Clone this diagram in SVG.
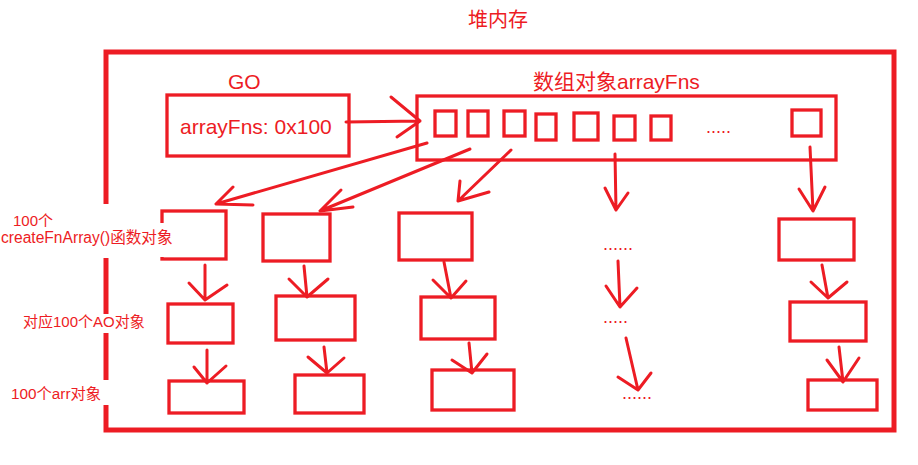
<svg xmlns="http://www.w3.org/2000/svg" width="918" height="465" viewBox="0 0 918 465">
<style>
.box{fill:none;stroke:#ED1C24;stroke-width:3.3}
.frame{fill:none;stroke:#ED1C24;stroke-width:5}
.t{fill:#ED1C24;font-family:"Liberation Sans","Noto Sans CJK SC",sans-serif}
.dots{fill:#ED1C24;font-family:"Liberation Sans",sans-serif;font-size:18px}
.bg{fill:#ffffff}
.conn path{fill:none;stroke:#ED1C24;stroke-width:3;stroke-linecap:round;stroke-linejoin:round}
</style>
<rect x="0" y="0" width="918" height="465" fill="#ffffff"/>
<g id="heap">
<rect class="frame" x="106" y="52" width="788" height="378"/>
<text class="t" x="468" y="27" font-size="20">堆内存</text>
</g>
<g id="go">
<text class="t" x="228" y="89" font-size="21">GO</text>
<rect class="box" x="167" y="95" width="182" height="61"/>
<text class="t" x="180" y="134" font-size="21">arrayFns: 0x100</text>
</g>
<g id="arrayFns">
<text class="t" x="533" y="89" font-size="21">数组对象arrayFns</text>
<rect class="box" x="417" y="96" width="419" height="64"/>
<rect class="box" x="435" y="111" width="21" height="25"/>
<rect class="box" x="468" y="111" width="20" height="25"/>
<rect class="box" x="504" y="111" width="21" height="25"/>
<rect class="box" x="536" y="114" width="20" height="26"/>
<rect class="box" x="574" y="113" width="24" height="27"/>
<rect class="box" x="614" y="116" width="21" height="24"/>
<rect class="box" x="651" y="116" width="20" height="24"/>
<text class="dots" x="706" y="133" font-size="17">.....</text>
<rect class="box" x="792" y="110" width="29" height="26"/>
</g>
<g id="fn1"><rect class="box" x="162" y="211" width="64" height="48"/></g>
<g id="fn2"><rect class="box" x="263" y="214" width="67" height="47"/></g>
<g id="fn3"><rect class="box" x="399" y="213" width="73" height="47"/></g>
<g id="fn4"><text class="dots" x="603" y="250">......</text></g>
<g id="fn5"><rect class="box" x="779" y="219" width="75" height="41"/></g>
<g id="ao1"><rect class="box" x="168" y="304" width="65" height="39"/></g>
<g id="ao2"><rect class="box" x="276" y="296" width="79" height="44"/></g>
<g id="ao3"><rect class="box" x="421" y="297" width="74" height="42"/></g>
<g id="ao4"><text class="dots" x="603" y="323">.....</text></g>
<g id="ao5"><rect class="box" x="790" y="302" width="76" height="39"/></g>
<g id="arr1"><rect class="box" x="169" y="381" width="75" height="32"/></g>
<g id="arr2"><rect class="box" x="295" y="375" width="69" height="38"/></g>
<g id="arr3"><rect class="box" x="432" y="370" width="82" height="40"/></g>
<g id="arr4"><text class="dots" x="622" y="399">......</text></g>
<g id="arr5"><rect class="box" x="808" y="380" width="69" height="30"/></g>
<g id="labels">
<rect class="bg" x="0" y="204" width="112" height="54"/>
<rect class="bg" x="0" y="223" width="173" height="34"/>
<rect class="bg" x="18" y="314" width="135" height="19"/>
<rect class="bg" x="6" y="380" width="104" height="25"/>
<text class="t" x="13" y="226" font-size="15">100个</text>
<text class="t" x="1" y="243" font-size="15.6">createFnArray()函数对象</text>
<text class="t" x="23" y="327" font-size="15">对应100个AO对象</text>
<text class="t" x="11" y="399" font-size="15.3">100个arr对象</text>
</g>
<g id="connectors" class="conn">
<path d="M346 122 L420 121 M391 97 L420 121 L397 137"/>
<path d="M427 143 L216 204 M233 187 L216 204 L253 205"/>
<path d="M470 149 L320 211 M341 190 L320 211 L353 207"/>
<path d="M511 150 L458 201 M460 181 L458 201 L489 192"/>
<path d="M615 154 L616 210 M605 188 L616 210 L628 193"/>
<path d="M810 147 L813 211 M799 189 L813 211 L825 187"/>
<path d="M205 265 L205 300 M189 283 L205 300 L227 285"/>
<path d="M304 266 L307 297 M289 279 L307 297 L328 279"/>
<path d="M444 262 L451 298 M433 280 L451 298 L466 281"/>
<path d="M618 261 L620 307 M606 286 L620 307 L637 288"/>
<path d="M822 265 L828 298 M811 282 L828 298 L847 282"/>
<path d="M207 350 L207 383 M194 367 L207 383 L226 366"/>
<path d="M324 347 L327 373 M308 357 L327 373 L344 358"/>
<path d="M469 343 L472 373 M452 360 L472 373 L487 354"/>
<path d="M626 338 L638 390 M618 377 L638 390 L651 373"/>
<path d="M839 347 L843 382 M827 360 L843 382 L859 358"/>
</g>
</svg>
